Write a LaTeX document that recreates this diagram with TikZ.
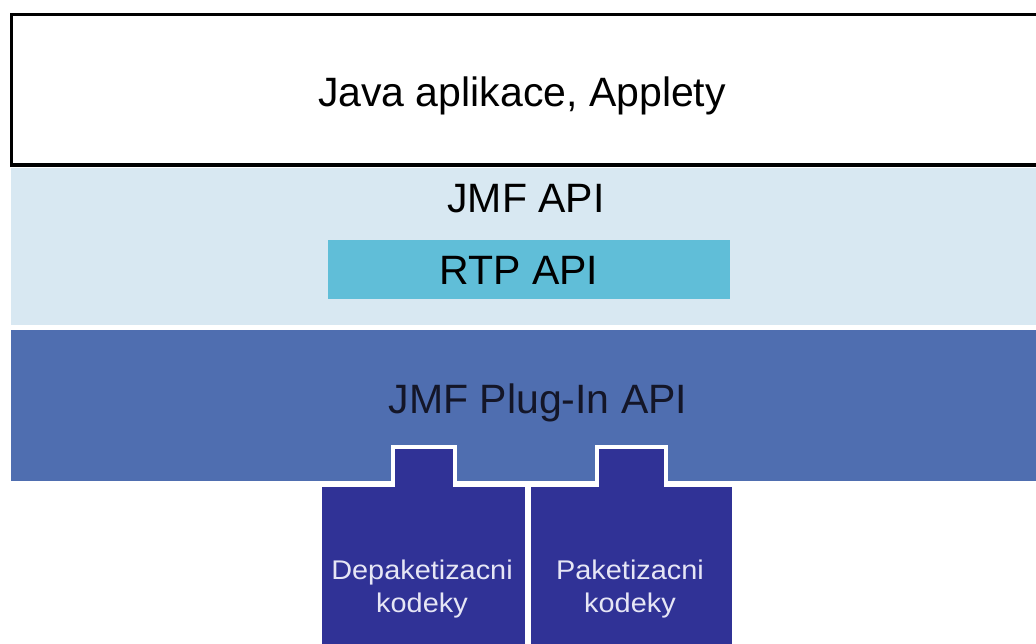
\documentclass[tikz,border=0pt]{standalone}
\usepackage{fontspec}
\setmainfont{Liberation Sans}
\definecolor{lightband}{RGB}{216,232,242}
\definecolor{rtpcol}{RGB}{96,190,216}
\definecolor{plugcol}{RGB}{79,110,176}
\definecolor{codeccol}{RGB}{48,50,150}
\definecolor{codectext}{RGB}{230,230,245}
\definecolor{plugtext}{RGB}{20,22,40}
\newcommand{\wider}[1]{\scalebox{1.07}[1]{#1}}
\begin{document}
\begin{tikzpicture}[x=1pt,y=-1pt,
  bigtext/.style={font=\fontsize{41}{48}\selectfont, anchor=base, inner sep=0pt},
  codectxt/.style={font=\fontsize{27}{33}\selectfont, align=center, text=codectext, inner sep=0pt, anchor=base},
  codecbox/.style={fill=codeccol, draw=white, line width=4pt, line join=miter}]
\useasboundingbox (0,0) rectangle (1036,644);
\clip (0,0) rectangle (1036,644);
% top box
\draw[line width=3.5pt, fill=white] (11.5,14.5) rectangle (1050,165);
\node[bigtext] (java) at (522,107) {Java aplikace, Applety};
% JMF API band
\fill[lightband] (11,168) rectangle (1036,325);
\node[bigtext] (jmf) at (526,213) {JMF API};
\fill[rtpcol] (328,240) rectangle (730,299);
\node[bigtext] (rtp) at (519,285) {RTP API};
% plug-in band
\fill[plugcol] (11,330) rectangle (1036,481);
\node[bigtext, text=plugtext] (plug) at (538,413) {JMF Plug-In API};
% codec boxes
\draw[codecbox] (320,660) -- (320,485) -- (392.5,485) -- (392.5,447) -- (455,447) -- (455,485) -- (526.5,485) -- (526.5,660);
\draw[codecbox] (528.5,660) -- (528.5,485) -- (597,485) -- (597,447) -- (666,447) -- (666,485) -- (734,485) -- (734,660);
\node[codectxt] (dep) at (422,612) {\wider{Depaketizacni}\\\wider{kodeky}};
\node[codectxt] (pak) at (630,612) {\wider{Paketizacni}\\\wider{kodeky}};
\end{tikzpicture}
\end{document}
